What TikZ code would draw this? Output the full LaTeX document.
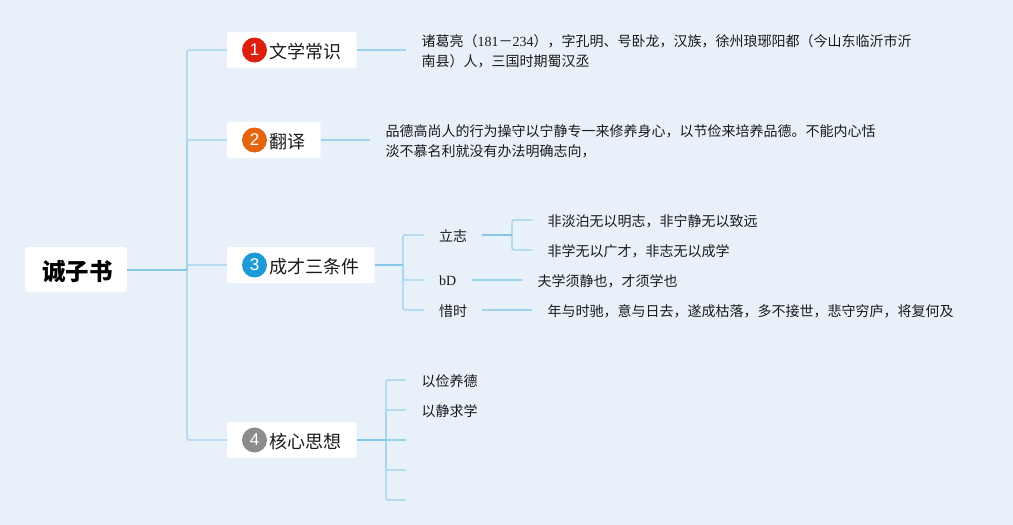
\documentclass[tikz,border=0pt]{standalone}
\usepackage{fontspec}
\setmainfont{Noto Sans CJK SC}
\newfontfamily\numfont{Liberation Serif}
\newfontfamily\digitfont{Liberation Sans}
\definecolor{bgc}{HTML}{E8F0F9}
\definecolor{linec}{HTML}{9DD1EC}
\definecolor{stemc}{HTML}{84C5E8}
\definecolor{textc}{HTML}{1A1A1A}
\definecolor{cone}{HTML}{DD1F0D}
\definecolor{ctwo}{HTML}{E4650F}
\definecolor{cthree}{HTML}{1E9AD8}
\definecolor{cfour}{HTML}{8C8C8C}
\tikzset{
  conn/.style={draw=linec, line width=1.4pt, rounded corners=1.5pt},
  stem/.style={draw=stemc, line width=1.7pt},
  rootbox/.style={fill=white, rounded corners=3pt, minimum width=102pt, minimum height=45pt, inner sep=0pt, text height=24pt, text depth=2pt, font=\fontsize{23.5}{28}\selectfont\bfseries, text=black},
  topicbox/.style={fill=white, rounded corners=2pt, anchor=west, minimum height=36pt, inner xsep=15.5pt, inner ysep=0pt, text height=18pt, text depth=1.4pt, font=\fontsize{18}{22}\selectfont, text=textc},
  badge/.style={circle, minimum size=25pt, inner sep=0pt, text=white, font=\fontsize{17}{20}\selectfont\digitfont, fill=#1},
  leaf/.style={anchor=west, inner xsep=15.5pt, inner ysep=0pt, align=left, font=\fontsize{14}{20}\selectfont, text=textc},
  sub/.style={anchor=west, inner xsep=15pt, inner ysep=0pt, font=\fontsize{14}{20}\selectfont, text=textc},
}
\begin{document}
\begin{tikzpicture}[x=1pt,y=-1pt]
\useasboundingbox (0,0) rectangle (1013,525);
\fill[bgc] (0,0) rectangle (1013,525);

\node[rootbox] (root) at (76,269.5) {\hspace*{3pt}诚子书};

\node[topicbox] (t1) at (227,50) {\hspace*{26.5pt}文学常识};
\node[topicbox] (t2) at (227,140) {\hspace*{26.5pt}翻译};
\node[topicbox] (t3) at (227,265) {\hspace*{26.5pt}成才三条件};
\node[topicbox] (t4) at (227,440) {\hspace*{26.5pt}核心思想};
\node[badge=cone] (b1) at (254.5,50) {1};
\node[badge=ctwo] (b2) at (254.5,140) {2};
\node[badge=cthree] (b3) at (254.5,265) {3};
\node[badge=cfour] (b4) at (254.5,440) {4};

\node[leaf] (l1) at (406,41) [yshift=-10pt] {诸葛亮（{\numfont 181}－{\numfont 234}），字孔明、号卧龙，汉族，徐州琅琊阳都（今山东临沂市沂\\南县）人，三国时期蜀汉丞};
\node[leaf] (l2) at (370,141) {品德高尚人的行为操守以宁静专一来修养身心，以节俭来培养品德。不能内心恬\\淡不慕名利就没有办法明确志向，};

\node[sub] (s1) at (424,236) {立志};
\node[sub] (s2) at (424,281) {\numfont bD};
\node[sub] (s3) at (424,311) {惜时};

\node[leaf] (a1) at (532,221) {非淡泊无以明志，非宁静无以致远};
\node[leaf] (a2) at (532,251) {非学无以广才，非志无以成学};
\node[leaf] (a3) at (522,281) {夫学须静也，才须学也};
\node[leaf] (a4) at (532,311) {年与时驰，意与日去，遂成枯落，多不接世，悲守穷庐，将复何及};

\node[leaf] (k1) at (406,381) {以俭养德};
\node[leaf] (k2) at (406,411) {以静求学};
\coordinate (k3) at (406,440);
\coordinate (k4) at (406,470);
\coordinate (k5) at (406,500);

\coordinate (j0) at (187,270);
\coordinate (j3) at (403,265);
\coordinate (js) at (512,235);
\coordinate (j4) at (386,440);

% root to topics
\foreach \t in {t1,t2,t3,t4} \draw[conn] (j0) |- (\t.west);
\draw[stem] (root.east |- j0) -- (j0);

% topic to leaf
\draw[conn] (t1.east) -- (l1.west |- t1.east);
\draw[conn] (t2.east) -- (l2.west |- t2.east);

% third topic
\draw[conn] (j3) |- (s1.west |- js);
\draw[conn] (j3) |- (s2.west |- 0,280);
\draw[conn] (j3) |- (s3.west |- 0,310);
\draw[stem] (t3.east) -- (j3);
\draw[conn] (js) |- (a1.west |- 0,220);
\draw[conn] (js) |- (a2.west |- 0,250);
\draw[stem] (s1.east |- js) -- (js);
\draw[conn] (s2.east |- 0,280) -- (a3.west |- 0,280);
\draw[conn] (s3.east |- 0,310) -- (a4.west |- 0,310);

% fourth topic
\draw[conn] (j4) |- (k1.west |- 0,380);
\draw[conn] (j4) |- (k2.west |- 0,410);
\draw[conn] (j4) -- (k3);
\draw[conn] (j4) |- (k4);
\draw[conn] (j4) |- (k5);
\draw[stem] (t4.east) -- (j4);
\end{tikzpicture}
\end{document}
